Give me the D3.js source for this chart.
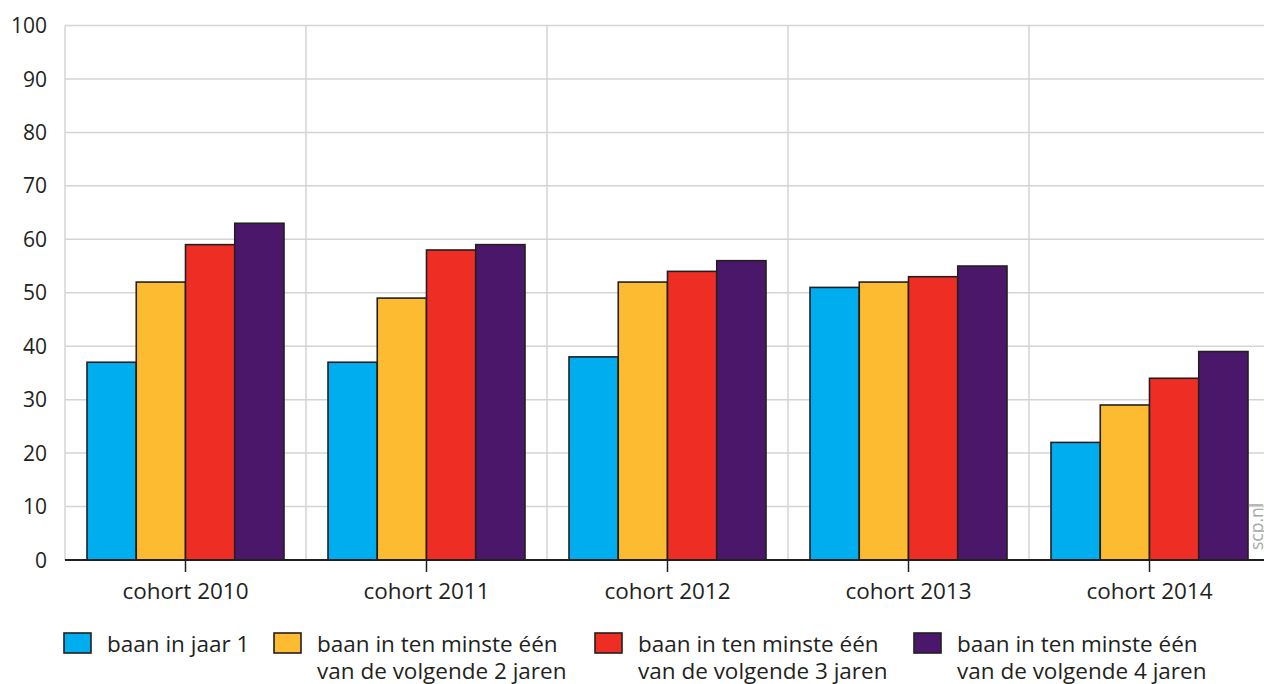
<!DOCTYPE html>
<html><head><meta charset="utf-8">
<script src="https://cdn.jsdelivr.net/npm/d3@7"></script>
<style>html,body{margin:0;padding:0;background:#fff;overflow:hidden}svg{display:block}</style>
</head><body>
<svg id="chart" width="1264" height="684"></svg>
<script>
const categories = ["cohort 2010","cohort 2011","cohort 2012","cohort 2013","cohort 2014"];
const seriesNames = ["baan in jaar 1","baan in ten minste één van de volgende 2 jaren","baan in ten minste één van de volgende 3 jaren","baan in ten minste één van de volgende 4 jaren"];
const legendLines = [["baan in jaar 1"],["baan in ten minste één","van de volgende 2 jaren"],["baan in ten minste één","van de volgende 3 jaren"],["baan in ten minste één","van de volgende 4 jaren"]];
const jaar1 = [37,37,38,51,22];
const volg2 = [52,49,52,52,29];
const volg3 = [59,58,54,53,34];
const volg4 = [63,59,56,55,39];
const seriesValues = [jaar1, volg2, volg3, volg4];
const colors = ["#00aeef","#fcbb30","#ee2e24","#4a176b"];
const yTicks = [0,10,20,30,40,50,60,70,80,90,100];

const font = "'Open Sans', 'Noto Sans', sans-serif";
const svg = d3.select("#chart");
const mLeft = 65, mRight = 1270, mTop = 25.5, mBottom = 560;

const x0 = d3.scaleBand().domain(categories).range([mLeft, mRight]).paddingInner(0).paddingOuter(0);
const x1 = d3.scaleBand().domain(d3.range(4)).range([22, x0.bandwidth() - 22]).padding(0);
const y = d3.scaleLinear().domain([0,100]).range([mBottom, mTop]);

// horizontal gridlines
svg.append("g").selectAll("line").data(yTicks.filter(d => d > 0)).join("line")
  .attr("x1", mLeft).attr("x2", 1264).attr("y1", d => y(d)).attr("y2", d => y(d))
  .attr("stroke", "#d4d4d4").attr("stroke-width", 1.5);
// vertical gridlines (band boundaries)
svg.append("g").selectAll("line").data(categories).join("line")
  .attr("x1", d => x0(d)).attr("x2", d => x0(d)).attr("y1", mTop).attr("y2", mBottom)
  .attr("stroke", "#d4d4d4").attr("stroke-width", 1.5);

// y tick labels
svg.append("g").selectAll("text").data(yTicks).join("text")
  .attr("x", 47).attr("y", d => y(d)).attr("dy", "0.36em")
  .attr("text-anchor", "end").attr("font-family", font).attr("font-size", 21).attr("fill", "#231f20")
  .text(d => d);

// bars
const groups = svg.append("g").selectAll("g").data(categories).join("g")
  .attr("transform", d => `translate(${x0(d)},0)`);
groups.selectAll("rect").data((c, ci) => seriesValues.map((s, si) => ({si, v: s[ci]}))).join("rect")
  .attr("x", d => x1(d.si)).attr("width", x1.bandwidth())
  .attr("y", d => y(d.v)).attr("height", d => y(0) - y(d.v))
  .attr("fill", d => colors[d.si]).attr("stroke", "#231f20").attr("stroke-width", 1.6);

// x axis
const xAxis = svg.append("g").attr("transform", `translate(0,${mBottom})`)
  .call(d3.axisBottom(x0).tickSize(12).tickSizeOuter(0));
xAxis.select(".domain").attr("stroke", "#231f20").attr("stroke-width", 2).attr("d", `M${mLeft},0H1264`);
xAxis.selectAll(".tick line").attr("stroke", "#231f20").attr("stroke-width", 1.5);
xAxis.selectAll(".tick text").attr("font-family", font).attr("font-size", 22.5).attr("fill", "#231f20").attr("y", 39).attr("dy", null);

// watermark
svg.append("text").attr("transform", "translate(1263,550) rotate(-90)")
  .attr("font-family", font).attr("font-size", 17.5).attr("fill", "#a8a8a8").text("scp.nl");

// legend
const legX = [64, 274, 595, 914];
const leg = svg.append("g").selectAll("g").data(seriesNames).join("g")
  .attr("transform", (d, i) => `translate(${legX[i]},633)`);
leg.append("rect").attr("width", 27).attr("height", 20)
  .attr("fill", (d, i) => colors[i]).attr("stroke", "#231f20").attr("stroke-width", 1.6);
leg.each(function(d, i) {
  const t = d3.select(this).append("text").attr("font-family", font).attr("font-size", 22.5).attr("fill", "#231f20");
  legendLines[i].forEach((ln, j) => t.append("tspan").attr("x", 43).attr("y", 18.5 + j * 27).text(ln));
});
</script>
</body></html>
